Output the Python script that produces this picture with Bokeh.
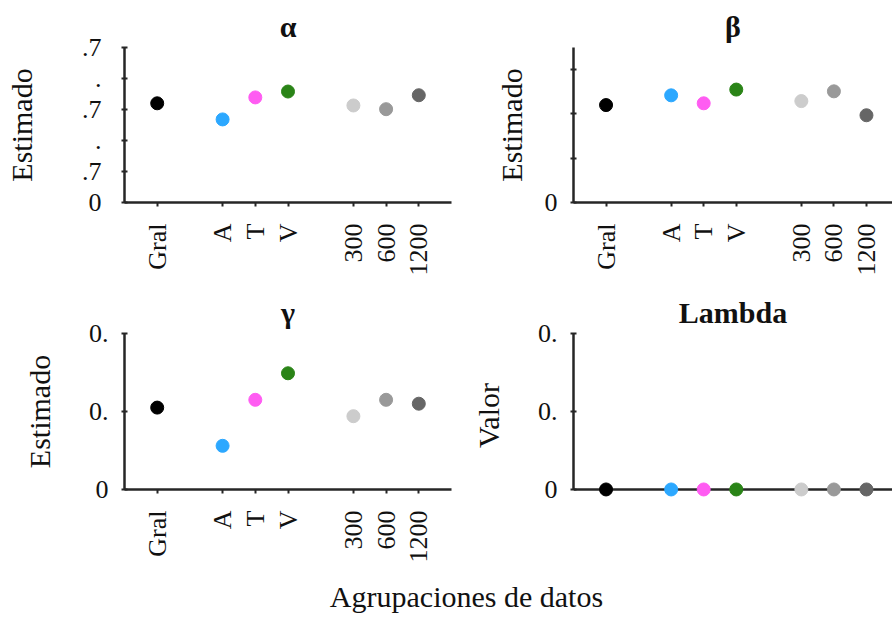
import math
from bokeh.plotting import figure
from bokeh.layouts import row, column
from bokeh.models import FixedTicker, ColumnDataSource, Range1d
from bokeh.core.properties import value
from bokeh.embed import file_html
from bokeh.resources import INLINE

# ---- data ----
categories = ["Gral", "A", "T", "V", "300", "600", "1200"]
x_slots = [1, 3, 4, 5, 7, 8, 9]
colors = ["#000000", "#2CA8FF", "#FF5CF2", "#2A8417", "#CCCCCC", "#999999", "#666666"]

alpha_vals = [3.20, 2.68, 3.39, 3.58, 3.13, 3.01, 3.46]
beta_vals = [2.20, 2.42, 2.24, 2.55, 2.29, 2.51, 1.97]
gamma_vals = [1.05, 0.56, 1.15, 1.49, 0.94, 1.15, 1.10]
lambda_vals = [0, 0, 0, 0, 0, 0, 0]

alpha_ticks = [0, 1, 2, 3, 4, 5]
alpha_labels = ["0", ".7", ".", ".7", ".", ".7"]
beta_ticks = [0, 1, 2, 3]
beta_labels = ["0", "", "", ""]
gamma_ticks = [0, 1, 2]
gamma_labels = ["0", "0.", "0."]
lambda_ticks = [0, 1, 2]
lambda_labels = ["0", "0.", "0."]

FONT = "Liberation Serif"
AX = "#262626"
TXT = "#111111"


def panel(vals, title, ylabel, yticks, ylabels, ytop, fw, fh, mbl, mbr, mbt, mbb,
          xend, ylab_std, ytick_std=13, ybot=0.0, overlay=False):
    p = figure(frame_width=fw, frame_height=fh,
               x_range=Range1d(0, xend), y_range=Range1d(ybot, ytop),
               output_backend="svg", toolbar_location=None,
               min_border_left=mbl, min_border_right=mbr,
               min_border_top=mbt, min_border_bottom=mbb,
               title=title)
    p.outline_line_color = None
    p.grid.grid_line_color = None
    p.background_fill_color = "white"
    p.border_fill_color = "white"
    p.title.align = "center"
    p.title.text_font = FONT
    p.title.text_font_size = "30px"
    p.title.text_font_style = "bold"
    p.title.text_color = TXT
    p.title.standoff = 9

    src = ColumnDataSource(dict(x=x_slots, y=vals, c=colors, cat=categories))
    r = p.scatter("x", "y", source=src, size=13, fill_color="c", line_color="c")
    if overlay:
        r.level = "overlay"

    xa = p.xaxis[0]
    xa.ticker = FixedTicker(ticks=x_slots)
    xa.major_label_overrides = {x: c for x, c in zip(x_slots, categories)}
    xa.major_label_orientation = math.pi / 2
    xa.major_label_text_font = FONT
    xa.major_label_text_font_size = "26px"
    xa.major_label_text_color = TXT
    xa.major_label_standoff = 17
    xa.major_tick_in = 0
    xa.major_tick_out = 4
    xa.minor_tick_line_color = None
    xa.axis_line_width = 2.5
    xa.axis_line_color = AX
    xa.major_tick_line_color = AX
    xa.major_tick_line_width = 2
    if ybot != 0.0:
        xa.fixed_location = 0

    ya = p.yaxis[0]
    ya.ticker = FixedTicker(ticks=yticks)
    ya.major_label_overrides = {t: l for t, l in zip(yticks, ylabels)}
    ya.major_label_text_font = FONT
    ya.major_label_text_font_size = "26px"
    ya.major_label_text_color = TXT
    ya.major_label_standoff = ytick_std
    ya.major_tick_in = 3
    ya.major_tick_out = 3
    ya.minor_tick_line_color = None
    ya.axis_line_width = 2.5
    ya.axis_line_color = AX
    ya.major_tick_line_color = AX
    ya.major_tick_line_width = 2
    ya.axis_label = ylabel
    ya.axis_label_text_font = FONT
    ya.axis_label_text_font_size = "30px"
    ya.axis_label_text_font_style = "normal"
    ya.axis_label_text_color = TXT
    ya.axis_label_standoff = ylab_std
    if ybot != 0.0:
        ya.bounds = (0, ytop)
    return p


p_alpha = panel(alpha_vals, "α", "Estimado", alpha_ticks, alpha_labels, 5.0,
                327, 155, 124, 9, 47, 76, 10.0, 41, ytick_std=20)
p_beta = panel(beta_vals, "β", "Estimado", beta_ticks, beta_labels, 3.5,
               319, 155, 113, 0, 47, 76, 9.8, 14)
p_gamma = panel(gamma_vals, "γ", "Estimado", gamma_ticks, gamma_labels, 2.0,
                327, 156, 124, 9, 55, 79, 10.0, 30)
p_lambda = panel(lambda_vals, "Lambda", "Valor", lambda_ticks, lambda_labels, 2.0,
                 319, 164, 113, 0, 55, 71, 9.8, 30, ybot=-0.103, overlay=True)

# shared x label
p_lab = figure(width=892, height=45, x_range=Range1d(0, 892), y_range=Range1d(0, 45),
               x_axis_type=None, y_axis_type=None,
               output_backend="svg", toolbar_location=None,
               min_border_left=0, min_border_right=0, min_border_top=0, min_border_bottom=0)
p_lab.grid.grid_line_color = None
p_lab.outline_line_color = None
p_lab.text(x=[466], y=[17], text=["Agrupaciones de datos"], text_font=value(FONT),
           text_font_size="30px", text_align="center", text_baseline="middle",
           text_color=TXT)

layout = column(row(column(p_alpha, p_gamma), column(p_beta, p_lambda)), p_lab)

open("out.html", "w").write(file_html(layout, INLINE))
